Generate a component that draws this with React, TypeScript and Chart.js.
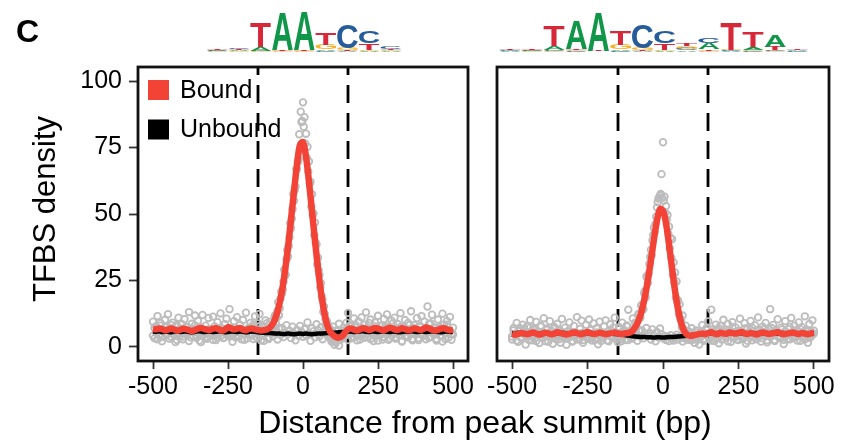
import React, { useEffect, useRef } from "react";
import { Chart, registerables } from "chart.js";
Chart.register(...registerables);

const FONT = "'Liberation Sans', Arial, Helvetica, sans-serif";

// ---------- data ----------
const xTicks = [-500, -250, 0, 250, 500];
const yTicks = [0, 25, 50, 75, 100];
const motifBounds = [-150, 150];
const lineX = Array.from({ length: 101 }, (_, i) => -500 + i * 10);
const pointX = Array.from({ length: 201 }, (_, i) => -500 + i * 5);
const peakX = Array.from({ length: 40 }, (_, i) => -97.5 + i * 5);

const leftBoundLine = [
  6.8, 6.6, 6.9, 6.7, 6.3, 6.5, 6.9, 6.6, 6.2, 6.4,
  6.8, 6.7, 6.3, 6.0, 6.4, 6.9, 7.1, 6.8, 6.5, 6.4,
  6.9, 7.0, 6.6, 6.2, 6.5, 7.4, 7.0, 6.6, 6.9, 7.1,
  6.5, 6.3, 6.8, 6.9, 6.6, 6.4, 6.2, 6.3, 6.6, 7.3,
  8.8, 11.5, 15.5, 21.0, 28.5, 37.5, 48.0, 58.5, 68.5, 76.0,
  77.0, 71.5, 62.0, 51.0, 40.0, 29.5, 20.5, 13.5, 8.5, 5.8,
  4.5, 3.7, 3.5, 4.0, 5.4, 6.6, 6.9, 6.5, 6.2, 6.6,
  7.0, 6.8, 6.4, 6.7, 7.1, 6.9, 6.5, 6.3, 6.8, 7.2,
  6.9, 6.4, 6.6, 7.0, 6.7, 6.3, 6.5, 6.9, 6.8, 6.4,
  6.7, 7.3, 7.0, 6.5, 6.2, 6.4, 6.9, 7.0, 6.6, 6.3,
  6.5,
];
const leftUnboundLine = [
  5.8, 5.7, 5.9, 5.6, 5.8, 5.7, 5.5, 5.8, 5.9, 5.6,
  5.7, 5.8, 5.6, 5.5, 5.7, 5.9, 5.8, 5.6, 5.7, 5.8,
  5.6, 5.7, 5.9, 5.8, 5.5, 5.6, 5.8, 5.7, 5.6, 5.8,
  5.7, 5.5, 5.6, 5.8, 5.7, 5.5, 5.4, 5.3, 5.2, 5.2,
  5.1, 5.0, 5.0, 4.9, 4.9, 5.0, 4.9, 4.8, 4.9, 5.0,
  4.9, 5.0, 4.9, 4.8, 4.9, 5.0, 5.0, 5.1, 5.2, 5.2,
  5.3, 5.4, 5.5, 5.6, 5.5, 5.7, 5.8, 5.6, 5.7, 5.8,
  5.9, 5.7, 5.6, 5.8, 5.7, 5.6, 5.8, 5.9, 5.7, 5.6,
  5.8, 5.7, 5.5, 5.6, 5.8, 5.7, 5.9, 5.8, 5.6, 5.7,
  5.8, 5.6, 5.7, 5.9, 5.8, 5.6, 5.5, 5.7, 5.8, 5.7,
  5.6,
];
const leftBoundPoints = [
  9.5, 3.2, 7.8, 11.6, 4.5, 8.9, 2.1, 6.4, 10.2, 5.1,
  12.3, 7.0, 3.8, 9.1, 5.9, 1.8, 8.2, 11.0, 4.2, 6.8,
  2.9, 10.4, 7.5, 5.3, 13.1, 3.6, 8.7, 6.1, 11.8, 4.0,
  9.8, 2.4, 7.2, 12.0, 5.6, 8.0, 3.1, 10.9, 6.6, 4.8,
  11.4, 7.7, 2.6, 9.3, 5.0, 12.6, 6.9, 3.4, 8.5, 10.6,
  4.3, 14.2, 7.1, 1.9, 9.7, 5.8, 11.2, 3.9, 8.3, 6.2,
  10.1, 2.7, 12.9, 6.7, 4.6, 9.0, 7.4, 3.0, 11.5, 5.5,
  8.8, 12.4, 4.1, 7.9, 2.3, 10.0, 6.3, 3.5, 9.4, 7.6,
  5.4, 11.3, 8.6, 13.5, 11.9, 18.2, 20.1, 24.5, 26.8, 33.0,
  33.9, 41.2, 44.6, 51.8, 55.0, 60.3, 66.9, 70.5, 74.0, 84.6,
  92.0, 86.4, 80.2, 75.3, 69.8, 62.1, 57.4, 50.2, 46.8, 38.5,
  33.6, 27.1, 24.0, 17.8, 15.2, 10.4, 9.6, 5.3, 6.8, 2.0,
  3.4, 0.8, 1.6, 4.9, 0.5, 2.8, 3.3, 6.2, 4.4, 9.1,
  12.8, 5.7, 8.1, 3.3, 10.7, 7.3, 2.5, 9.6, 6.0, 11.1,
  4.7, 8.4, 13.0, 3.7, 7.0, 10.3, 5.2, 2.2, 9.2, 6.5,
  11.7, 4.4, 8.0, 2.8, 10.5, 7.8, 12.2, 5.0, 3.2, 9.9,
  6.4, 11.0, 3.6, 8.6, 5.5, 12.7, 2.0, 7.6, 10.1, 4.3,
  9.0, 6.1, 13.4, 3.0, 8.2, 5.7, 10.8, 2.6, 7.4, 11.6,
  4.9, 9.5, 6.6, 15.2, 3.4, 8.9, 12.1, 5.2, 7.1, 2.4,
  10.3, 6.8, 4.1, 12.5, 8.4, 3.0, 9.7, 5.9, 11.3, 2.7,
  7.2,
];
const leftBoundPeakPoints = [
  7.5, 12.0, 11.0, 16.8, 14.5, 20.8, 21.5, 29.0, 27.2, 36.5,
  38.0, 46.5, 48.2, 57.5, 59.0, 66.8, 69.5, 80.0, 88.5, 85.0,
  82.8, 76.5, 71.2, 66.0, 61.5, 52.8, 49.5, 42.0, 39.2, 31.0,
  28.8, 22.4, 19.0, 13.2, 12.4, 7.8, 8.4, 4.0, 6.2, 2.6,
];
const leftUnboundPoints = [
  4.2, 7.1, 5.5, 2.9, 6.8, 8.0, 3.7, 5.9, 7.4, 4.6,
  6.2, 3.1, 8.3, 5.0, 4.4, 7.7, 2.6, 6.5, 5.3, 8.6,
  3.9, 6.0, 4.8, 7.3, 2.2, 5.7, 6.9, 4.1, 8.1, 3.4,
  5.2, 7.0, 1.8, 6.4, 4.7, 5.1, 3.8, 6.6, 4.3, 5.8,
  2.7, 6.1, 4.9, 3.5, 5.6, 4.0, 6.3, 3.3, 5.4, 4.6,
  5.0, 3.9, 6.0, 4.4, 5.2, 3.6, 6.7, 4.1, 5.5, 2.9,
  6.2, 4.7, 5.9, 3.2, 7.2, 5.1, 4.3, 8.4, 6.0, 3.6,
  5.4, 7.8, 2.4, 6.3, 4.9, 5.7, 8.9, 3.0, 6.6, 5.2,
  4.0, 7.5, 5.8, 2.8, 6.9, 4.5, 7.1, 3.7, 5.3, 8.2,
  4.8, 6.1, 3.3, 7.6, 5.0, 2.5, 6.4, 4.2, 7.9, 5.6,
  3.8, 6.7, 4.4, 9.2, 5.1, 2.3, 7.0, 5.9, 3.6, 8.5,
  6.3, 4.0, 7.4, 2.9, 5.5, 8.1, 4.6, 6.9, 3.2, 5.8,
  7.6, 2.1, 6.0, 4.8, 8.7, 3.5, 5.3, 7.2, 4.3, 6.5,
  2.6, 7.9, 5.0, 3.9, 6.6, 8.3, 4.1, 5.7, 2.8, 7.1,
  5.4, 3.4, 6.8, 4.9, 9.0, 3.0, 6.2, 5.1, 7.7, 4.4,
  2.4, 6.4, 4.7, 8.0, 3.7, 5.6, 7.3, 2.7, 6.1, 4.2,
  8.8, 5.2, 3.1, 6.9, 4.5, 7.5, 2.2, 5.9, 4.0, 6.7,
  3.6, 8.2, 5.0, 2.5, 7.0, 4.6, 6.3, 3.3, 7.8, 5.5,
  4.1, 6.6, 2.9, 5.7, 8.6, 3.8, 6.0, 4.8, 7.2, 3.0,
  5.3, 7.4, 4.3, 2.0, 6.5, 5.0, 8.4, 3.5, 6.1, 4.9,
  4.7,
];

const rightBoundLine = [
  5.0, 4.6, 4.9, 5.2, 5.0, 4.8, 5.1, 5.4, 5.0, 4.7,
  4.9, 5.3, 5.1, 4.8, 5.0, 5.5, 5.2, 4.9, 4.7, 5.0,
  5.3, 5.4, 5.0, 4.8, 5.1, 5.6, 5.2, 4.9, 5.0, 5.3,
  5.1, 4.8, 5.0, 5.2, 5.4, 5.1, 4.9, 5.0, 5.2, 5.4,
  6.2, 7.8, 10.2, 13.8, 18.8, 25.2, 32.5, 40.5, 47.5, 51.8,
  51.2, 46.5, 38.5, 29.5, 21.0, 14.0, 9.0, 6.0, 4.6, 4.2,
  4.3, 4.6, 4.9, 5.0, 4.8, 5.2, 5.5, 5.0, 4.8, 5.3,
  5.1, 4.9, 5.4, 5.2, 5.0, 5.3, 5.6, 5.1, 4.9, 5.2,
  5.0, 4.7, 5.1, 5.4, 5.2, 4.9, 5.0, 5.3, 5.5, 5.1,
  4.8, 5.0, 5.2, 5.4, 5.1, 4.9, 5.2, 5.0, 4.8, 5.1,
  5.3,
];
const rightUnboundLine = [
  5.2, 5.1, 5.3, 5.0, 5.2, 5.1, 5.3, 5.2, 5.0, 5.1,
  5.2, 5.3, 5.1, 5.0, 5.2, 5.1, 5.2, 5.3, 5.1, 5.0,
  5.2, 5.1, 5.0, 5.2, 5.3, 5.1, 5.2, 5.0, 5.1, 5.2,
  5.1, 5.0, 5.1, 5.0, 4.9, 4.8, 4.7, 4.5, 4.3, 4.2,
  4.0, 3.9, 3.8, 3.7, 3.7, 3.6, 3.6, 3.5, 3.6, 3.6,
  3.5, 3.6, 3.7, 3.7, 3.8, 3.9, 4.0, 4.1, 4.3, 4.4,
  4.6, 4.7, 4.8, 4.9, 5.0, 5.0, 5.1, 5.0, 5.2, 5.1,
  5.0, 5.1, 5.2, 5.1, 5.0, 5.2, 5.1, 5.0, 5.1, 5.2,
  5.0, 5.1, 5.2, 5.1, 5.0, 5.1, 5.2, 5.1, 5.0, 5.1,
  5.2, 5.0, 5.1, 5.2, 5.1, 5.0, 5.1, 5.2, 5.1, 5.0,
  5.1,
];
const rightBoundPoints = [
  2.8, 7.1, 4.5, 9.0, 1.9, 6.2, 3.6, 8.4, 5.3, 0.9,
  7.8, 4.0, 10.1, 2.5, 6.6, 3.2, 9.4, 5.7, 1.5, 8.0,
  4.8, 10.8, 2.2, 6.9, 3.9, 9.7, 5.0, 1.2, 7.5, 4.3,
  8.7, 2.9, 6.1, 10.5, 3.5, 7.2, 0.8, 5.9, 9.2, 4.1,
  2.0, 7.9, 5.4, 11.2, 3.0, 6.8, 9.9, 1.6, 5.1, 8.3,
  3.7, 10.3, 6.3, 2.4, 8.8, 4.6, 7.0, 1.0, 9.5, 5.6,
  3.3, 7.7, 10.0, 4.9, 2.1, 8.5, 6.0, 3.8, 11.0, 5.2,
  1.8, 7.4, 4.2, 9.1, 6.5, 2.6, 8.1, 14.0, 5.0, 3.1,
  10.7, 6.4, 8.9, 4.4, 12.5, 11.0, 15.8, 14.2, 21.0, 26.5,
  24.0, 31.2, 36.5, 40.0, 44.8, 46.2, 52.5, 55.8, 57.0, 65.0,
  77.0, 56.5, 53.0, 49.6, 45.2, 41.0, 40.5, 31.8, 28.0, 24.6,
  17.5, 16.0, 10.2, 11.8, 6.3, 8.0, 3.4, 5.9, 2.7, 7.0,
  4.0, 1.5, 6.2, 3.5, 0.9, 5.5, 8.2, 2.3, 4.7, 7.1,
  9.6, 3.0, 14.0, 5.8, 2.2, 8.4, 6.6, 1.4, 7.9, 4.4,
  10.2, 5.1, 3.3, 8.6, 6.1, 1.9, 9.3, 4.0, 7.3, 2.8,
  6.0, 10.6, 3.7, 5.4, 8.9, 1.3, 7.0, 4.6, 9.8, 2.5,
  5.8, 8.1, 3.9, 11.1, 6.4, 2.0, 7.6, 4.3, 9.0, 1.7,
  6.9, 14.2, 4.1, 8.3, 2.6, 5.6, 10.4, 3.4, 7.2, 5.0,
  1.1, 9.7, 4.8, 6.7, 2.9, 10.9, 5.3, 8.0, 3.6, 6.3,
  9.2, 2.3, 7.4, 4.5, 11.5, 5.9, 1.6, 8.6, 3.8, 10.0,
  6.1,
];
const rightBoundPeakPoints = [
  6.8, 9.1, 7.5, 12.0, 11.2, 15.5, 14.0, 20.2, 18.6, 26.0,
  27.5, 33.8, 34.5, 42.0, 43.2, 49.0, 54.5, 56.2, 57.5, 56.0,
  55.0, 50.5, 47.8, 42.6, 37.0, 33.5, 27.0, 24.2, 18.5, 17.0,
  12.2, 10.5, 7.4, 6.8, 4.1, 5.5, 2.8, 4.6, 3.2, 5.0,
];
const rightUnboundPoints = [
  3.9, 6.2, 4.8, 2.4, 5.9, 7.1, 3.3, 5.0, 6.6, 4.1,
  5.5, 2.7, 7.3, 4.4, 3.8, 6.8, 2.2, 5.7, 4.6, 7.6,
  3.4, 5.3, 4.2, 6.4, 1.9, 5.0, 6.1, 3.6, 7.0, 3.0,
  4.5, 6.2, 1.6, 5.6, 4.1, 4.4, 3.2, 5.7, 3.6, 4.9,
  2.2, 5.1, 4.0, 2.8, 4.6, 3.2, 5.2, 2.6, 4.4, 3.7,
  4.0, 3.0, 4.9, 3.4, 4.2, 2.7, 5.4, 3.1, 4.5, 2.2,
  5.1, 3.8, 4.8, 2.5, 6.0, 4.3, 3.6, 7.2, 5.1, 3.0,
  4.7, 6.8, 2.0, 5.5, 4.2, 5.0, 7.7, 2.6, 5.8, 4.5,
  3.4, 6.5, 5.0, 2.3, 6.0, 3.9, 6.2, 3.2, 4.6, 7.1,
  4.1, 5.3, 2.8, 6.6, 4.3, 2.1, 5.6, 3.6, 6.9, 4.8,
  3.2, 4.1, 2.6, 3.9, 2.2, 4.4, 3.0, 2.4, 3.7, 4.6,
  2.8, 3.5, 4.2, 2.0, 3.3, 4.8, 2.9, 3.8, 5.1, 2.5,
  4.0, 3.1, 5.4, 2.7, 4.5, 3.6, 5.9, 3.0, 4.9, 6.3,
  3.7, 5.2, 2.4, 6.7, 4.4, 5.0, 3.3, 7.0, 4.6, 2.8,
  5.8, 3.9, 6.5, 2.1, 5.3, 4.2, 7.4, 3.4, 5.6, 4.0,
  2.6, 6.1, 4.7, 3.1, 6.9, 5.1, 2.3, 5.5, 4.3, 7.2,
  3.6, 5.0, 2.9, 6.4, 4.1, 5.7, 3.2, 6.8, 4.8, 2.5,
  5.4, 3.8, 7.1, 4.5, 2.2, 6.0, 4.0, 5.3, 3.5, 6.6,
  2.7, 5.9, 4.4, 3.0, 7.5, 4.9, 3.3, 6.2, 5.2, 2.4,
  4.6, 6.7, 3.7, 5.5, 2.9, 6.3, 4.2, 3.4, 5.8, 4.7,
  5.0,
];

// sequence logos: each column is a stack (bottom -> top) of [letter, bits]
const logoLeft: [string, number][][] = [
  [["G", 0.03], ["A", 0.04], ["C", 0.05], ["T", 0.06]],
  [["G", 0.04], ["A", 0.05], ["T", 0.06], ["C", 0.08]],
  [["G", 0.03], ["C", 0.03], ["A", 0.2], ["T", 1.3]],
  [["C", 0.02], ["G", 0.03], ["T", 0.05], ["A", 1.95]],
  [["C", 0.02], ["G", 0.03], ["T", 0.05], ["A", 2.0]],
  [["C", 0.05], ["A", 0.08], ["G", 0.26], ["T", 0.63]],
  [["A", 0.04], ["T", 0.05], ["G", 0.1], ["C", 1.2]],
  [["A", 0.05], ["G", 0.08], ["T", 0.35], ["C", 0.63]],
  [["A", 0.03], ["G", 0.05], ["T", 0.08], ["C", 0.12]],
];
const logoRight: [string, number][][] = [
  [["G", 0.02], ["A", 0.03], ["C", 0.03], ["T", 0.04]],
  [["G", 0.03], ["C", 0.03], ["A", 0.04], ["T", 0.05]],
  [["G", 0.05], ["C", 0.05], ["A", 0.2], ["T", 1.05]],
  [["C", 0.04], ["G", 0.06], ["T", 0.05], ["A", 1.45]],
  [["C", 0.02], ["G", 0.02], ["T", 0.03], ["A", 2.0]],
  [["C", 0.05], ["A", 0.08], ["G", 0.26], ["T", 0.72]],
  [["A", 0.03], ["T", 0.05], ["G", 0.12], ["C", 1.25]],
  [["A", 0.05], ["G", 0.08], ["T", 0.35], ["C", 0.6]],
  [["A", 0.08], ["C", 0.1], ["G", 0.12], ["T", 0.15]],
  [["G", 0.06], ["T", 0.08], ["A", 0.3], ["C", 0.3]],
  [["A", 0.04], ["C", 0.04], ["G", 0.05], ["T", 1.4]],
  [["C", 0.04], ["G", 0.06], ["A", 0.15], ["T", 0.82]],
  [["G", 0.05], ["C", 0.05], ["T", 0.18], ["A", 0.62]],
  [["G", 0.02], ["C", 0.03], ["A", 0.03], ["T", 0.04]],
];

const legendLabels = ["Bound", "Unbound"];
const panelLetter = "C";
const xTitle = "Distance from peak summit (bp)";
const yTitle = "TFBS density";

// ---------- styles ----------
const RED = "rgb(243,67,54)";
const BLACK = "#000000";
const GREY = "rgb(188,188,188)";
const LOGO_COLORS: Record<string, string> = {
  A: "#109648",
  C: "#255C99",
  G: "#F7B32B",
  T: "#D62839",
};

function drawLogo(ctx: CanvasRenderingContext2D, cols: [string, number][][], x0: number, colW: number, baseY: number, bitPx: number) {
  ctx.save();
  ctx.font = `bold 100px ${FONT}`;
  ctx.textBaseline = "alphabetic";
  ctx.textAlign = "left";
  cols.forEach((stack, i) => {
    let y = baseY;
    const x = x0 + i * colW;
    stack.forEach(([letter, bits]) => {
      const h = bits * bitPx;
      const m = ctx.measureText(letter);
      const gw = m.actualBoundingBoxLeft + m.actualBoundingBoxRight;
      const gh = m.actualBoundingBoxAscent + m.actualBoundingBoxDescent;
      ctx.save();
      ctx.translate(x + 0.5, y - h);
      ctx.scale((colW - 1) / gw, h / gh);
      ctx.fillStyle = LOGO_COLORS[letter];
      ctx.fillText(letter, m.actualBoundingBoxLeft, m.actualBoundingBoxAscent);
      ctx.restore();
      y -= h;
    });
  });
  ctx.restore();
}

const panelPlugin = {
  id: "panelDecor",
  beforeDatasetsDraw(chart: any) {
    const { ctx, chartArea } = chart;
    const xs = chart.scales.x;
    ctx.save();
    ctx.strokeStyle = "#000";
    ctx.lineWidth = 2.8;
    ctx.setLineDash([18, 10]);
    ctx.lineDashOffset = 10;
    motifBounds.forEach((v) => {
      const px = Math.round(xs.getPixelForValue(v));
      ctx.beginPath();
      ctx.moveTo(px, chartArea.top);
      ctx.lineTo(px, chartArea.bottom);
      ctx.stroke();
    });
    ctx.restore();
  },
  afterDraw(chart: any, _args: any, opts: any) {
    const { ctx, chartArea } = chart;
    ctx.save();
    ctx.strokeStyle = "#111";
    ctx.lineWidth = 2.8;
    ctx.strokeRect(chartArea.left, chartArea.top, chartArea.right - chartArea.left, chartArea.bottom - chartArea.top);
    ctx.restore();

    if (opts.logo) drawLogo(ctx, opts.logo, opts.logoX, opts.logoW, 52, 19.2);

    if (opts.legend) {
      ctx.save();
      ctx.font = `25px ${FONT}`;
      ctx.textBaseline = "middle";
      ctx.textAlign = "left";
      const colors = [RED, BLACK];
      legendLabels.forEach((lab, i) => {
        const cy = 90 + i * 39.5;
        ctx.fillStyle = colors[i];
        ctx.fillRect(148, cy - 10, 21, 20);
        ctx.fillStyle = "#000";
        ctx.fillText(lab, 180, cy + 1);
      });
      ctx.restore();
    }

    if (opts.titles) {
      ctx.save();
      ctx.fillStyle = "#000";
      ctx.font = `bold 32px ${FONT}`;
      ctx.textBaseline = "alphabetic";
      ctx.textAlign = "left";
      ctx.fillText(panelLetter, 16, 42);
      ctx.font = `32px ${FONT}`;
      ctx.textAlign = "center";
      ctx.fillText(xTitle, 485, 433);
      ctx.font = `31px ${FONT}`;
      ctx.translate(55, 209);
      ctx.rotate(-Math.PI / 2);
      ctx.fillText(yTitle, 0, 0);
      ctx.restore();
    }
  },
};

function makeDatasets(boundLine: number[], unboundLine: number[], boundPts: number[], boundPeakPts: number[], unboundPts: number[]) {
  const pointStyle = {
    showLine: false,
    pointRadius: 3.3,
    pointBorderWidth: 1.8,
    pointBorderColor: GREY,
    pointBackgroundColor: "rgba(0,0,0,0)",
    borderColor: GREY,
  };
  return [
    {
      label: legendLabels[0],
      data: boundLine.map((y, i) => ({ x: lineX[i], y })),
      borderColor: RED,
      borderWidth: 6.5,
      pointRadius: 0,
      tension: 0.35,
      order: 0,
    },
    {
      label: legendLabels[1],
      data: unboundLine.map((y, i) => ({ x: lineX[i], y })),
      borderColor: BLACK,
      borderWidth: 4.5,
      pointRadius: 0,
      tension: 0.35,
      order: 1,
    },
    { label: "bound raw", data: boundPts.map((y, i) => ({ x: pointX[i], y })), ...pointStyle, order: 2 },
    { label: "bound raw peak", data: boundPeakPts.map((y, i) => ({ x: peakX[i], y })), ...pointStyle, order: 3 },
    { label: "unbound raw", data: unboundPts.map((y, i) => ({ x: pointX[i], y })), ...pointStyle, order: 4 },
  ];
}

function xScale() {
  return {
    type: "linear",
    min: -550,
    max: 550,
    afterBuildTicks: (s: any) => {
      s.ticks = xTicks.map((v) => ({ value: v }));
    },
    ticks: { font: { family: FONT, size: 25 }, color: "#000", padding: 3, maxRotation: 0, autoSkip: false },
    grid: { display: true, drawOnChartArea: false, drawTicks: true, tickLength: 8, tickColor: "#333", tickWidth: 1.8 },
    border: { display: false },
    afterFit: (s: any) => {
      s.height = 80;
      s.paddingLeft = 0;
      s.paddingRight = 0;
    },
  };
}

function makeConfig(side: "left" | "right") {
  const isLeft = side === "left";
  const datasets = isLeft
    ? makeDatasets(leftBoundLine, leftUnboundLine, leftBoundPoints, leftBoundPeakPoints, leftUnboundPoints)
    : makeDatasets(rightBoundLine, rightUnboundLine, rightBoundPoints, rightBoundPeakPoints, rightUnboundPoints);
  return {
    type: "line",
    data: { datasets },
    plugins: [panelPlugin],
    options: {
      animation: false,
      responsive: false,
      devicePixelRatio: 1,
      events: [],
      layout: {
        padding: isLeft
          ? { left: 0, top: 67, right: 842 - 468, bottom: 0 }
          : { left: 497, top: 67, right: 842 - 829, bottom: 0 },
      },
      plugins: {
        legend: { display: false },
        tooltip: { enabled: false },
        panelDecor: isLeft
          ? { logo: logoLeft, logoX: 206.5, logoW: 21.7, legend: true, titles: true }
          : { logo: logoRight, logoX: 499, logoW: 22.1, legend: false, titles: false },
      },
      scales: {
        x: xScale(),
        y: {
          type: "linear",
          display: isLeft,
          min: -5.3,
          max: 105.3,
          afterBuildTicks: (s: any) => {
            s.ticks = yTicks.map((v) => ({ value: v }));
          },
          ticks: { font: { family: FONT, size: 25 }, color: "#000", padding: 7 },
          grid: { display: true, drawOnChartArea: false, drawTicks: true, tickLength: 9, tickColor: "#333", tickWidth: 1.8 },
          border: { display: false },
          afterFit: (s: any) => {
            s.width = isLeft ? 138 : 0;
            s.paddingTop = 0;
            s.paddingBottom = 0;
          },
        },
      },
    },
  };
}

export default function App() {
  const leftRef = useRef<HTMLCanvasElement>(null);
  const rightRef = useRef<HTMLCanvasElement>(null);

  useEffect(() => {
    const c1 = new Chart(leftRef.current as HTMLCanvasElement, makeConfig("left") as any);
    const c2 = new Chart(rightRef.current as HTMLCanvasElement, makeConfig("right") as any);
    return () => {
      c1.destroy();
      c2.destroy();
    };
  }, []);

  const canvasStyle: React.CSSProperties = { position: "absolute", left: 0, top: 0, width: 842, height: 441 };
  return (
    <div style={{ position: "absolute", left: 0, top: 0, width: 842, height: 441, background: "#fff", overflow: "hidden" }}>
      <canvas ref={leftRef} width={842} height={441} style={canvasStyle} />
      <canvas ref={rightRef} width={842} height={441} style={canvasStyle} />
    </div>
  );
}
